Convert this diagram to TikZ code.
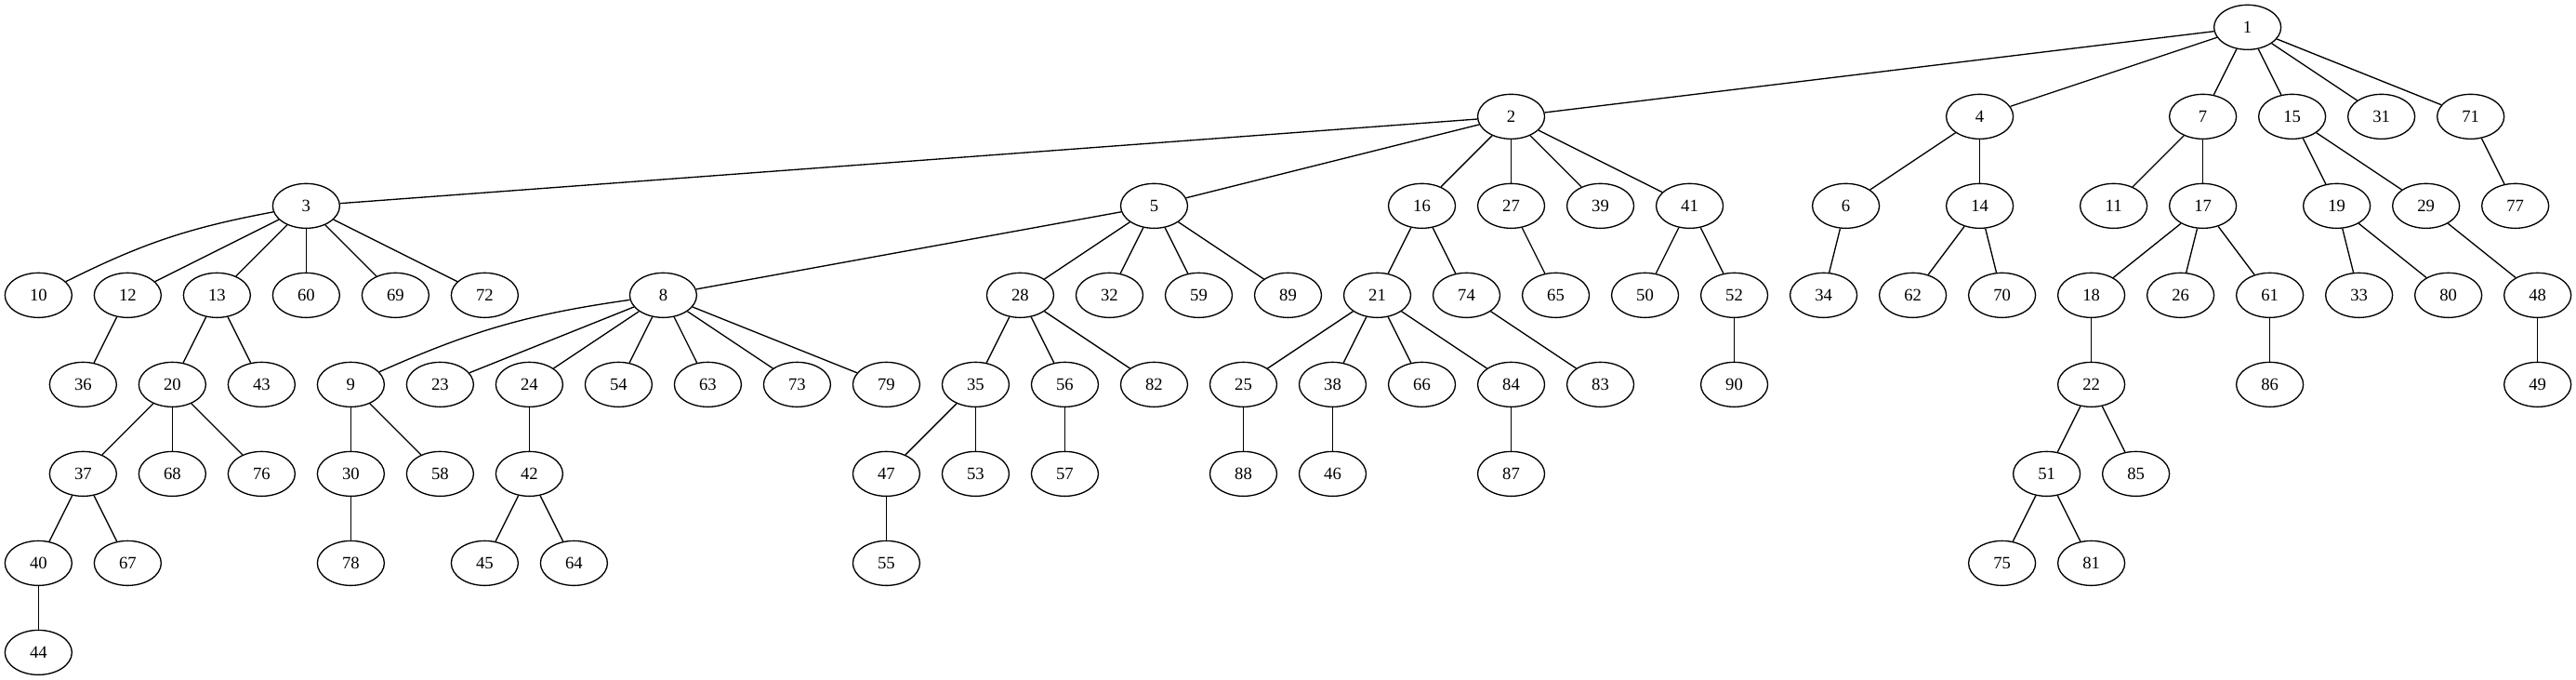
\documentclass[tikz,border=0pt]{standalone}
\usepackage{fontspec}
\setmainfont{Liberation Serif}
\usetikzlibrary{shapes.geometric}
\begin{document}
\begin{tikzpicture}[x=1pt,y=1pt,
  nd/.style={draw,ellipse,minimum width=54pt,minimum height=36pt,inner sep=0pt,line width=1pt,font=\fontsize{14}{16}\selectfont},
  ed/.style={draw,line width=1pt}]
\useasboundingbox (0,0) rectangle (2078,548);
\foreach \n/\x/\r in {
 1/1813/0,
 2/1219/1, 4/1597/1, 7/1777/1, 15/1849/1, 31/1921/1, 71/1993/1,
 3/247/2, 5/931/2, 16/1147/2, 27/1219/2, 39/1291/2, 41/1363/2, 6/1489/2, 14/1597/2, 11/1705/2, 17/1777/2, 19/1885/2, 29/1957/2, 77/2029/2,
 10/31/3, 12/103/3, 13/175/3, 60/247/3, 69/319/3, 72/391/3, 8/535/3, 28/823/3, 32/895/3, 59/967/3, 89/1039/3, 21/1111/3, 74/1183/3, 65/1255/3, 50/1327/3, 52/1399/3, 34/1471/3, 62/1543/3, 70/1615/3, 18/1687/3, 26/1759/3, 61/1831/3, 33/1903/3, 80/1975/3, 48/2047/3,
 36/67/4, 20/139/4, 43/211/4, 9/283/4, 23/355/4, 24/427/4, 54/499/4, 63/571/4, 73/643/4, 79/715/4, 35/787/4, 56/859/4, 82/931/4, 25/1003/4, 38/1075/4, 66/1147/4, 84/1219/4, 83/1291/4, 90/1399/4, 22/1687/4, 86/1831/4, 49/2047/4,
 37/67/5, 68/139/5, 76/211/5, 30/283/5, 58/355/5, 42/427/5, 47/715/5, 53/787/5, 57/859/5, 88/1003/5, 46/1075/5, 87/1219/5, 51/1651/5, 85/1723/5,
 40/31/6, 67/103/6, 78/283/6, 45/391/6, 64/463/6, 55/715/6, 75/1615/6, 81/1687/6,
 44/31/7}
 \node[nd] (n\n) at (\x,{526-72*\r}) {\n};
\foreach \a/\b in {
 1/2,1/4,1/7,1/15,1/31,1/71,
 2/3,2/5,2/16,2/27,2/39,2/41,
 3/12,3/13,3/60,3/69,3/72,
 4/6,4/14,
 5/8,5/28,5/32,5/59,5/89,
 6/34, 7/11,7/17,
 8/23,8/24,8/54,8/63,8/73,8/79,
 9/30,9/58, 12/36, 13/20,13/43, 14/62,14/70, 15/19,15/29,
 16/21,16/74, 17/18,17/26,17/61, 18/22, 19/33,19/80,
 20/37,20/68,20/76, 21/25,21/38,21/66,21/84, 22/51,22/85,
 24/42, 25/88, 27/65, 28/35,28/56,28/82, 29/48, 30/78,
 35/47,35/53, 37/40,37/67, 38/46, 40/44, 41/50,41/52,
 42/45,42/64, 47/55, 48/49, 51/75,51/81, 52/90, 56/57,
 61/86, 71/77, 74/83, 84/87}
 \draw[ed] (n\a) -- (n\b);
\draw[ed] (n3) to[bend right=8] (n10);
\draw[ed] (n8) to[bend right=8] (n9);
\end{tikzpicture}
\end{document}
